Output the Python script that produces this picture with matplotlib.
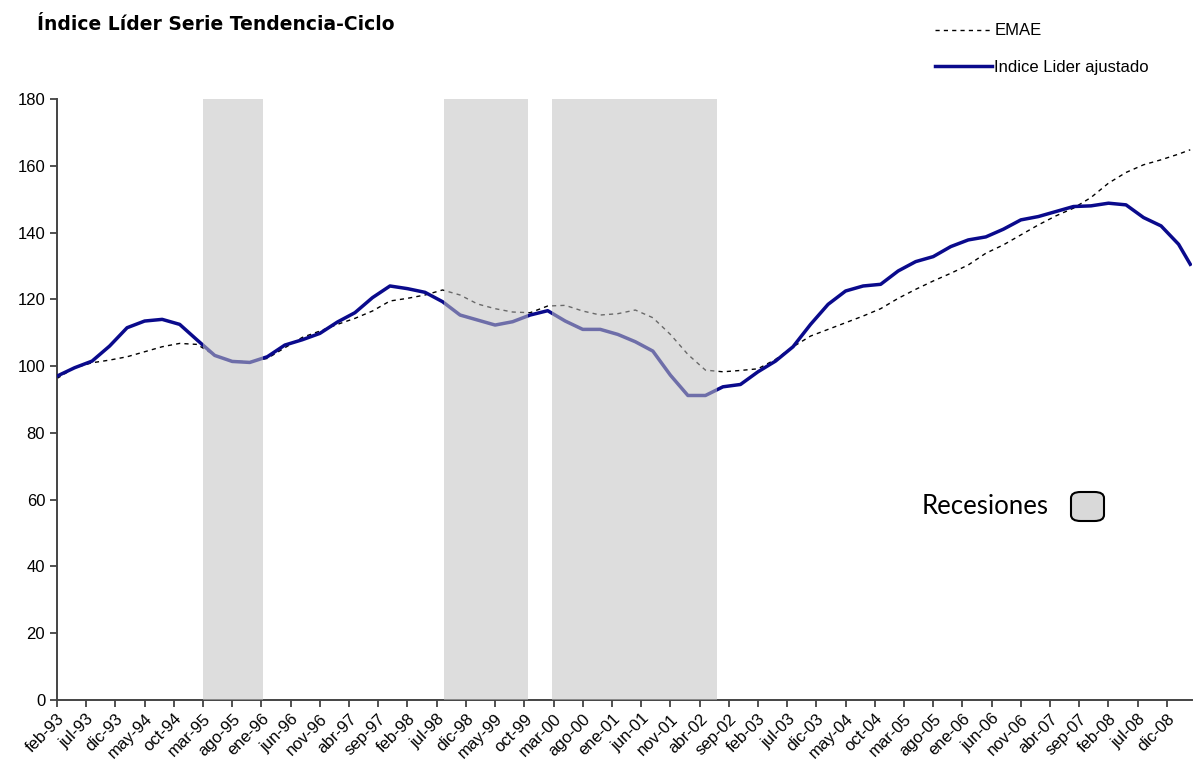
# _*_ coding: utf-8 _*_
"""
Indice Lider Serie Tendencia-Ciclo vs EMAE, with recession bands.
"""

import matplotlib
matplotlib.use('Agg')
import matplotlib.pyplot as plt
from matplotlib.patches import FancyBboxPatch

plt.rcParams['font.family'] = ['Liberation Sans', 'DejaVu Sans']

# months since feb-93
months = [0, 3, 6, 9, 12, 15, 18, 21, 24, 27, 30, 33, 36, 39, 42, 45, 48,
          51, 54, 57, 60, 63, 66, 69, 72, 75, 78, 81, 84, 87, 90, 93, 96,
          99, 102, 105, 108, 111, 114, 117, 120, 123, 126, 129, 132, 135,
          138, 141, 144, 147, 150, 153, 156, 159, 162, 165, 168, 171, 174,
          177, 180, 183, 186, 189, 192, 194]

lider = [97.0, 99.5, 101.5, 106.0, 111.5, 113.5, 114.0, 112.5, 107.8, 103.2,
         101.4, 101.1, 102.8, 106.3, 107.9, 109.8, 113.2, 116.0, 120.5, 124.0,
         123.2, 122.1, 119.3, 115.3, 113.8, 112.3, 113.3, 115.3, 116.6, 113.5,
         111.0, 111.0, 109.5, 107.3, 104.5, 97.3, 91.2, 91.2, 93.8, 94.5,
         98.3, 101.5, 105.8, 112.5, 118.5, 122.5, 124.0, 124.5, 128.5, 131.3,
         132.8, 135.8, 137.8, 138.7, 141.0, 143.8, 144.8, 146.3, 147.8, 148.0,
         148.8, 148.3, 144.5, 142.0, 136.5, 130.5]

emae = [96.3, 99.5, 101.0, 101.8, 102.8, 104.3, 105.8, 106.8, 106.5, 103.2,
        101.5, 101.3, 102.3, 105.5, 108.6, 110.5, 112.5, 114.3, 116.5, 119.5,
        120.3, 121.3, 122.8, 121.3, 118.6, 117.2, 116.2, 116.0, 118.0, 118.2,
        116.5, 115.3, 115.7, 116.8, 114.5, 109.5, 103.5, 98.8, 98.3, 98.7,
        99.2, 102.0, 105.8, 109.0, 111.0, 113.0, 115.0, 117.2, 120.3, 123.0,
        125.5, 127.8, 130.3, 133.8, 136.3, 139.3, 142.3, 145.0, 147.3, 150.5,
        154.8, 158.0, 160.3, 161.8, 163.5, 164.8]

# recession periods (months since feb-93)
rec_start = [25.0, 66.2, 84.8]
rec_end = [35.2, 80.6, 113.0]

tick_labels = ['feb-93', 'jul-93', 'dic-93', 'may-94', 'oct-94', 'mar-95',
               'ago-95', 'ene-96', 'jun-96', 'nov-96', 'abr-97', 'sep-97',
               'feb-98', 'jul-98', 'dic-98', 'may-99', 'oct-99', 'mar-00',
               'ago-00', 'ene-01', 'jun-01', 'nov-01', 'abr-02', 'sep-02',
               'feb-03', 'jul-03', 'dic-03', 'may-04', 'oct-04', 'mar-05',
               'ago-05', 'ene-06', 'jun-06', 'nov-06', 'abr-07', 'sep-07',
               'feb-08', 'jul-08', 'dic-08']

fig = plt.figure(figsize=(11.95, 7.6), dpi=100)
ax = fig.add_axes((0.0477, 0.079, 0.9498, 0.7907))

# series
ax.plot(months, emae, color='black', lw=1.0, ls=(0, (3, 3)), label='EMAE',
        zorder=2)
ax.plot(months, lider, color='#0a0a8c', lw=2.5,
        label='Indice Lider ajustado', zorder=3)

# recession bands drawn over the lines
for s, e in zip(rec_start, rec_end):
    ax.axvspan(s, e, ymin=0, ymax=1, facecolor='#c1c1c1', alpha=0.55,
               lw=0, zorder=4)

# axes
ax.set_xlim(0, 194.3)
ax.set_ylim(0, 180)
ax.set_yticks(range(0, 181, 20))
ax.set_xticks(range(0, 5 * len(tick_labels), 5))
ax.set_xticklabels(tick_labels, rotation=45, ha='right',
                   rotation_mode='anchor')
ax.tick_params(axis='both', direction='out', length=5, width=1.2,
               colors='#333333', labelsize=12, labelcolor='black')
ax.tick_params(axis='x', pad=3)
for side in ('top', 'right'):
    ax.spines[side].set_visible(False)
for side in ('left', 'bottom'):
    ax.spines[side].set_color('#444444')
    ax.spines[side].set_linewidth(1.4)

# title
fig.text(37 / 1195, 1 - 24 / 760, 'Índice Líder Serie Tendencia-Ciclo',
         family=['DejaVu Sans'], fontsize=13.5, fontweight='bold',
         va='center', ha='left')

# legend
leg = fig.legend(loc='upper left', bbox_to_anchor=(927 / 1195, 1 - 15 / 760),
                 frameon=False, fontsize=12, handlelength=3.4,
                 handletextpad=0.15, labelspacing=1.3, borderpad=0)

# recession key
fig.text(1049 / 1195, 1 - 506 / 760, 'Recesiones', family=['Lato', 'DejaVu Sans'],
         fontsize=18.5, ha='right', va='center')
box = FancyBboxPatch((1071 / 1195, 1 - 521 / 760), 33 / 1195, 29 / 760,
                     boxstyle='round,pad=0,rounding_size=0.008',
                     transform=fig.transFigure, facecolor='#d9d9d9',
                     edgecolor='black', lw=1.5)
fig.patches.append(box)

plt.savefig('out.png', dpi=100)
